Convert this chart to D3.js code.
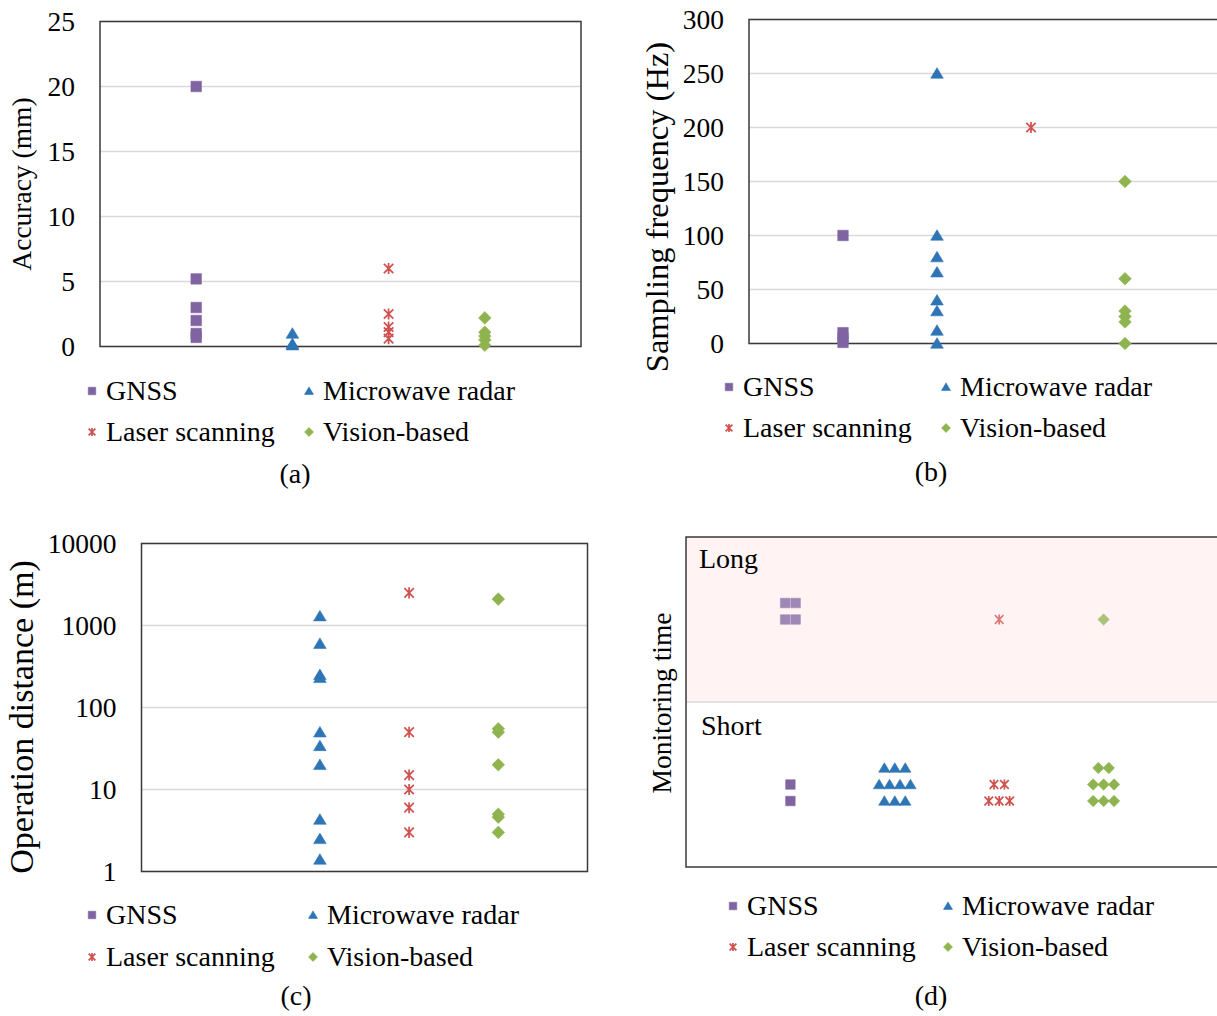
<!DOCTYPE html>
<html>
<head>
<meta charset="utf-8">
<script src="https://cdn.jsdelivr.net/npm/d3@7"></script>
<style>
  body { margin: 0; background: #fff; }
</style>
</head>
<body>
<div id="chart"></div>
<script>
// series names, in legend order
const seriesNames = ["GNSS", "Microwave radar", "Laser scanning", "Vision-based"];

// (a) accuracy, mm
const accTicks = [0, 5, 10, 15, 20, 25];
const accGNSS = [20, 5.2, 3, 2, 1, 0.7];
const accRadar = [1, 0.2, 0.1];
const accLaser = [6, 2.5, 1.5, 1.1, 0.6];
const accVision = [2.2, 1.1, 0.8, 0.5, 0.1];

// (b) sampling frequency, Hz
const freqTicks = [0, 50, 100, 150, 200, 250, 300];
const freqGNSS = [100, 10, 5, 1];
const freqRadar = [250, 100, 80, 66, 40, 30, 12, 0];
const freqLaser = [200];
const freqVision = [150, 60, 30, 25, 20, 0];

// (c) operation distance, m (log axis)
const distTicks = [1, 10, 100, 1000, 10000];
const distGNSS = [];
const distRadar = [1300, 600, 250, 230, 50, 34, 20, 4.3, 2.5, 1.4];
const distLaser = [2500, 50, 15, 10, 6, 3];
const distVision = [2100, 55, 50, 20, 5, 4.6, 3];

// (d) monitoring time: [offset from category, level]  (level > 1 = long, < 1 = short)
const timeLabels = ["Long", "Short"];
const timeGNSS = [[-0.05, 1.6], [0.05, 1.6], [-0.05, 1.5], [0.05, 1.5], [0, 0.5], [0, 0.4]];
const timeRadar = [[-0.1, 0.6], [0, 0.6], [0.1, 0.6],
                   [-0.15, 0.5], [-0.05, 0.5], [0.05, 0.5], [0.15, 0.5],
                   [-0.1, 0.4], [0, 0.4], [0.1, 0.4]];
const timeLaser = [[0, 1.5], [-0.05, 0.5], [0.05, 0.5], [-0.1, 0.4], [0, 0.4], [0.1, 0.4]];
const timeVision = [[0, 1.5], [-0.05, 0.6], [0.05, 0.6],
                    [-0.1, 0.5], [0, 0.5], [0.1, 0.5],
                    [-0.1, 0.4], [0, 0.4], [0.1, 0.4]];

const styles = [
    {color: "#8064a2", type: "square"},
    {color: "#2e75b6", type: "triangle"},
    {color: "#d0504d", type: "asterisk"},
    {color: "#8fb34f", type: "diamond"}
];

const FONT = '"Liberation Serif", "Times New Roman", serif';
const FS = 28;

const svg = d3.select('#chart').append('svg')
    .attr('width', 1217)
    .attr('height', 1016)
    .style('font-family', FONT);

svg.append('rect').attr('width', 1217).attr('height', 1016).attr('fill', '#fff');

function markerPath(type, s) {
    const h = s / 2;
    if (type === "square") return `M${-h},${-h}h${s}v${s}h${-s}Z`;
    if (type === "triangle") return `M0,${-h * 1.1}L${h * 1.2},${h * 0.9}L${-h * 1.2},${h * 0.9}Z`;
    if (type === "diamond") return `M0,${-h * 1.2}L${h * 1.2},0L0,${h * 1.2}L${-h * 1.2},0Z`;
    const a = h * 0.9;
    return `M${-a},${-a}L${a},${a}M${a},${-a}L${-a},${a}M0,${-h * 1.05}L0,${h * 1.05}`;
}

function drawMarkers(g, pts, st, size, opacity) {
    const star = st.type === "asterisk";
    g.selectAll(null)
        .data(pts)
        .join('path')
        .attr('transform', d => `translate(${d[0]},${d[1]})`)
        .attr('d', markerPath(st.type, size))
        .attr('fill', star ? 'none' : st.color)
        .attr('stroke', st.color)
        .attr('stroke-width', star ? 1.7 : 0.6)
        .attr('opacity', opacity);
}

function legend(x1, x2, row1, row2) {
    const pos = [[x1, row1], [x2, row1], [x1, row2], [x2, row2]];
    const g = svg.append('g');
    seriesNames.forEach((name, i) => {
        drawMarkers(g, [pos[i]], styles[i], 7.5, 1);
        g.append('text')
            .attr('x', pos[i][0] + 14)
            .attr('y', pos[i][1])
            .attr('dy', '0.33em')
            .attr('font-size', FS)
            .attr('fill', '#000')
            .text(name);
    });
}

function label(text, x, y) {
    svg.append('text')
        .attr('x', x).attr('y', y)
        .attr('text-anchor', 'middle')
        .attr('dy', '0.33em')
        .attr('font-size', FS)
        .attr('fill', '#000')
        .text(text);
}

function yTitle(text, x, y, size) {
    svg.append('text')
        .attr('transform', `translate(${x},${y}) rotate(-90)`)
        .attr('text-anchor', 'middle')
        .attr('dy', '0.33em')
        .attr('font-size', size)
        .attr('fill', '#000')
        .text(text);
}

function scatterPanel(p) {
    const x = d3.scaleLinear().domain([0, 5]).range([p.left, p.right]);
    const y = (p.log ? d3.scaleLog() : d3.scaleLinear()).domain(p.domain).range([p.bottom, p.top]);
    const g = svg.append('g');

    g.selectAll(null)
        .data(p.ticks)
        .join('line')
        .attr('x1', p.left).attr('x2', p.boxRight)
        .attr('y1', d => y(d)).attr('y2', d => y(d))
        .attr('stroke', '#d9d9d9')
        .attr('stroke-width', 1.5);

    g.append('rect')
        .attr('x', p.left).attr('y', p.top)
        .attr('width', p.boxRight - p.left).attr('height', p.bottom - p.top)
        .attr('fill', 'none')
        .attr('stroke', '#3a3a3a')
        .attr('stroke-width', 1.5);

    const axis = g.append('g')
        .attr('transform', `translate(${p.left},0)`)
        .call(d3.axisLeft(y).tickValues(p.ticks).tickSize(0).tickPadding(25).tickFormat(d3.format('d')));
    axis.select('.domain').remove();
    axis.selectAll('text')
        .attr('font-family', FONT)
        .attr('font-size', 27.5)
        .attr('fill', '#000');

    p.series.forEach((vals, i) => {
        drawMarkers(g, vals.map(v => [x(i + 1), y(v)]), styles[i], 10.5, 1);
    });
}

// (a)
scatterPanel({left: 100, right: 581, boxRight: 581, top: 21.5, bottom: 346.5,
    domain: [0, 25], ticks: accTicks, series: [accGNSS, accRadar, accLaser, accVision]});
yTitle("Accuracy (mm)", 22, 184, 27.5);
legend(92, 309, 391, 432);
label("(a)", 295, 474);

// (b)
scatterPanel({left: 749, right: 1219, boxRight: 1225, top: 19.5, bottom: 343.5,
    domain: [0, 300], ticks: freqTicks, series: [freqGNSS, freqRadar, freqLaser, freqVision]});
yTitle("Sampling frequency (Hz)", 657, 207, 32.5);
legend(729, 946, 387, 428);
label("(b)", 931, 472);

// (c)
scatterPanel({left: 141.5, right: 587.5, boxRight: 587.5, top: 543.5, bottom: 871.5, log: true,
    domain: [1, 10000], ticks: distTicks, series: [distGNSS, distRadar, distLaser, distVision]});
yTitle("Operation distance (m)", 22, 717, 34);
legend(92, 313, 915, 957);
label("(c)", 296, 996);

// (d)
(function() {
    const left = 686, right = 1208, boxRight = 1225, top = 537, bottom = 867;
    const x = d3.scaleLinear().domain([0, 5]).range([left, right]);
    const y = d3.scaleLinear().domain([0, 2]).range([bottom, top]);
    const g = svg.append('g');

    g.append('rect')
        .attr('x', left).attr('y', y(2))
        .attr('width', boxRight - left).attr('height', y(1) - y(2))
        .attr('fill', '#fff3f3');
    g.append('line')
        .attr('x1', left).attr('x2', boxRight)
        .attr('y1', y(1)).attr('y2', y(1))
        .attr('stroke', '#d9d9d9').attr('stroke-width', 1.5);
    g.append('rect')
        .attr('x', left).attr('y', top)
        .attr('width', boxRight - left).attr('height', bottom - top)
        .attr('fill', 'none')
        .attr('stroke', '#3a3a3a')
        .attr('stroke-width', 1.5);

    g.append('text').attr('x', left + 13).attr('y', y(1.87)).attr('dy', '0.33em')
        .attr('font-size', FS).attr('fill', '#000').text(timeLabels[0]);
    g.append('text').attr('x', left + 15).attr('y', y(0.855)).attr('dy', '0.33em')
        .attr('font-size', FS).attr('fill', '#000').text(timeLabels[1]);

    [timeGNSS, timeRadar, timeLaser, timeVision].forEach((pts, i) => {
        const longPts = pts.filter(d => d[1] > 1).map(d => [x(i + 1 + d[0]), y(d[1])]);
        const shortPts = pts.filter(d => d[1] < 1).map(d => [x(i + 1 + d[0]), y(d[1])]);
        drawMarkers(g, longPts, styles[i], 9.5, 0.75);
        drawMarkers(g, shortPts, styles[i], 9.5, 1);
    });
})();
yTitle("Monitoring time", 662, 703, 27.5);
legend(733, 948, 906, 947);
label("(d)", 931, 996);
</script>
</body>
</html>
